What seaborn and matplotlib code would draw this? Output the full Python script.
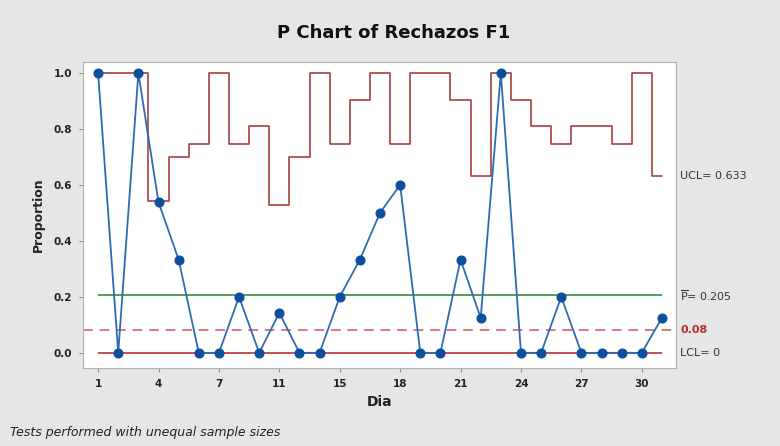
import numpy as np
import pandas as pd
import seaborn as sns
import matplotlib.pyplot as plt

# Day labels (two days have no samples), proportions and the per-sample UCL
dias = [1, 2, 3, 4, 5, 6, 7, 8, 9, 11, 12, 13, 15, 16, 17, 18, 19, 20, 21,
        22, 23, 24, 25, 26, 27, 28, 29, 30, 31]
proporcion = [1.0, 0.0, 1.0, 0.538, 0.333, 0.0, 0.0, 0.2, 0.0, 0.143, 0.0, 0.0,
              0.2, 0.333, 0.5, 0.6, 0.0, 0.0, 0.333, 0.125, 1.0, 0.0, 0.0, 0.2,
              0.0, 0.0, 0.0, 0.0, 0.125]
ucl = [1.0, 1.0, 1.0, 0.541, 0.699, 0.747, 1.0, 0.747, 0.811, 0.529, 0.699, 1.0,
       0.747, 0.904, 1.0, 0.747, 1.0, 1.0, 0.904, 0.633, 1.0, 0.904, 0.811, 0.747,
       0.811, 0.811, 0.747, 1.0, 0.633]
p_bar = 0.205
lcl = 0.0
limite = 0.08
tick_idx = [1, 4, 7, 10, 13, 16, 19, 22, 25, 28]

df = pd.DataFrame({'obs': np.arange(1, len(dias) + 1),
                   'dia': dias,
                   'p': proporcion,
                   'ucl': ucl})

sns.set_style('white')
plt.rcParams['font.family'] = ['DejaVu Sans']
plt.rcParams['mathtext.fontset'] = 'dejavusans'

fig = plt.figure(figsize=(7.8, 4.46), dpi=100, facecolor='#e6e6e6')
ax = fig.add_axes([0.1064, 0.175, 0.7603, 0.686])
ax.set_facecolor('white')

# control limits
ax.step(df['obs'], df['ucl'], where='mid', color='#a8403f', lw=1.2, zorder=2)
ax.hlines(p_bar, 1, len(dias), color='#3f9a48', lw=1.3, zorder=2)
ax.hlines(lcl, 1, len(dias), color='#c8504f', lw=1.4, zorder=2)
ax.axhline(limite, color='#d87a7a', lw=1.4, ls=(0, (5, 3.5)), zorder=2)

# data
sns.lineplot(data=df, x='obs', y='p', ax=ax, color='#2e6cb0', lw=1.3,
             marker='o', markersize=6.5, markerfacecolor='#0c4f9e',
             markeredgecolor='#0c4f9e', zorder=3)

ax.set_xlim(0.25, 29.7)
ax.set_ylim(-0.054, 1.039)
ax.set_xticks(tick_idx)
ax.set_xticklabels([str(dias[i - 1]) for i in tick_idx])
ax.set_yticks([0.0, 0.2, 0.4, 0.6, 0.8, 1.0])
ax.set_yticklabels(['0.0', '0.2', '0.4', '0.6', '0.8', '1.0'])
ax.tick_params(axis='both', length=3, width=0.8, color='#909090',
               labelsize=7.5, labelcolor='#222222', pad=5)
ax.tick_params(axis='both', which='both', bottom=True, left=True)
for lbl in ax.get_xticklabels() + ax.get_yticklabels():
    lbl.set_fontweight('bold')
for s in ax.spines.values():
    s.set_color('#b0b0b0')
    s.set_linewidth(0.8)

ax.set_xlabel('Dia', fontsize=10, fontweight='bold', color='#222222', labelpad=4)
ax.set_ylabel('Proportion', fontsize=9, fontweight='bold', color='#222222', labelpad=6)

# limit labels on the right
tr = ax.get_yaxis_transform()
ax.text(1.007, ucl[-1], 'UCL= 0.633', transform=tr, va='center', fontsize=8, color='#333333')
ax.text(1.007, p_bar, r'$\overline{\mathsf{P}}$= 0.205', transform=tr, va='center',
        fontsize=8, color='#333333')
ax.text(1.007, limite, '0.08', transform=tr, va='center', fontsize=8,
        fontweight='bold', color='#b03030')
ax.text(1.007, lcl, 'LCL= 0', transform=tr, va='center', fontsize=8, color='#333333')

fig.text(0.505, 0.925, 'P Chart of Rechazos F1', ha='center', va='center',
         fontsize=13, fontweight='bold', color='#111111')
fig.text(0.013, 0.03, 'Tests performed with unequal sample sizes', ha='left',
         va='center', fontsize=9, style='italic', color='#222222')

fig.savefig('out.png', dpi=100, facecolor=fig.get_facecolor())
